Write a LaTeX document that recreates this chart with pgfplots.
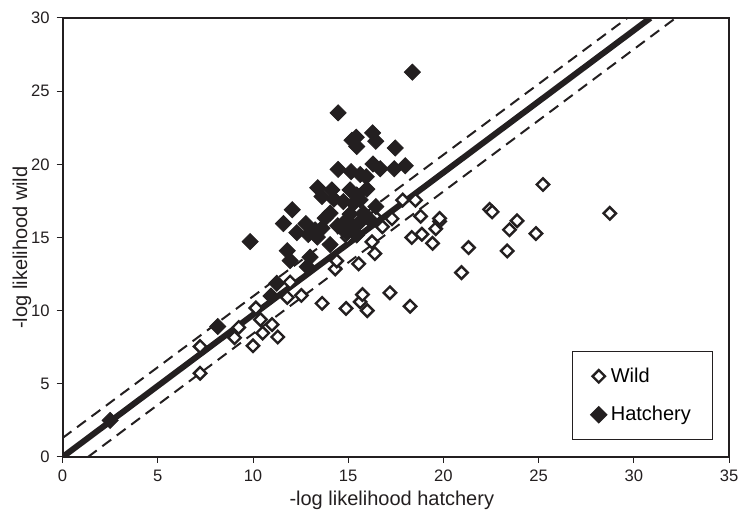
\documentclass[border=0pt]{standalone}
\usepackage{fontspec}
\setmainfont{Liberation Sans}
\usepackage{pgfplots}
\pgfplotsset{compat=1.18}
\definecolor{ink}{RGB}{35,31,32}

\begin{document}
\begin{tikzpicture}
\path[use as bounding box] (-31.3pt,-30pt) rectangle (337.7pt,228.5pt);
\begin{axis}[
  at={(0,0)}, anchor=origin,
  scale only axis, width=333.2pt, height=219.5pt,
  xmin=0, xmax=35, ymin=0, ymax=30,
  xtick={0,5,...,35}, ytick={0,5,...,30},
  tick align=outside, tick pos=left,
  major tick length=3pt,
  axis line style={ink, line width=1pt},
  tick style={ink, line width=0.5pt},
  /pgf/number format/assume math mode=true,
  every tick label/.append style={font=\fontsize{8.3}{10}\selectfont, text=ink},
  xlabel={-log likelihood hatchery},
  ylabel={-log likelihood wild},
  label style={font=\fontsize{10}{12}\selectfont, text=ink},
  xlabel style={at={(rel axis cs:0.494,0)}, anchor=center, yshift=-21.5pt},
  ylabel style={at={([xshift=-20.3pt]rel axis cs:0,0.477)}, anchor=center},
  legend style={at={(rel axis cs:0.8706,0.14)}, anchor=center, draw=ink,
    line width=0.6pt, font=\fontsize{10}{12}\selectfont,
    inner xsep=9pt, inner ysep=6pt, row sep=6.5pt},
  legend cell align=left,
  legend image code/.code={\draw[#1] plot coordinates {(3pt,0pt)};},
]
% wild fish
\addplot[only marks, mark=square*, mark size=2.2pt,
  mark options={rotate=45, fill=white, draw=ink, line width=1.2pt}] table {
x y
7.22 5.72
7.22 7.55
9.03 8.15
9.25 8.85
10.0 7.6
10.15 10.18
10.39 9.39
10.51 8.47
11.0 9.05
11.3 8.2
11.8 10.9
11.95 11.95
12.54 11.04
13.63 10.5
14.89 10.15
15.63 10.6
15.75 11.1
16.0 10.0
17.19 11.22
18.25 10.3
14.32 12.85
14.4 13.4
15.55 13.2
16.4 13.9
16.25 14.7
16.38 16.45
16.8 15.73
17.3 16.28
17.86 17.56
18.53 17.55
18.34 15.0
18.87 15.22
18.8 16.45
19.43 14.6
19.6 15.6
19.8 16.1
19.8 16.3
20.95 12.6
21.32 14.31
22.43 16.92
22.56 16.75
23.35 14.08
23.47 15.53
23.87 16.14
24.86 15.27
25.23 18.62
28.74 16.65
14.96 15.0
};
\addlegendentry{Wild}
% hatchery fish
\addplot[only marks, mark=square*, mark size=2.85pt,
  mark options={rotate=45, fill=ink, draw=ink}] table {
x y
2.5 2.5
8.15 8.92
9.85 14.72
18.37 26.3
14.47 23.52
15.2 21.65
15.42 21.85
15.45 21.22
16.28 22.15
16.45 21.58
17.47 21.12
14.47 19.65
15.15 19.5
15.63 19.3
15.95 19.15
16.3 20.02
16.68 19.7
17.42 19.7
18.0 19.9
13.4 18.4
13.62 17.8
14.14 18.25
14.25 17.62
15.1 18.25
15.45 17.91
15.98 18.3
14.75 17.45
15.28 17.34
15.63 17.57
16.45 17.11
12.06 16.9
11.6 15.95
12.78 15.95
12.3 15.33
12.9 15.2
13.26 15.52
13.79 16.32
13.62 15.63
13.38 15.03
14.05 16.66
14.45 15.8
14.93 16.2
15.28 15.74
15.63 16.08
14.93 15.29
15.45 15.17
15.1 16.6
15.8 16.66
16.15 16.2
14.05 14.52
11.8 14.1
11.95 13.42
13.0 13.65
12.85 13.0
11.25 11.87
10.95 11.0
};
\addlegendentry{Hatchery}
% reference lines
\addplot[ink, line width=3pt, forget plot] coordinates {(0,0) (30.87,30)};
\addplot[ink, line width=1pt, dash pattern=on 5.5pt off 3.5pt, forget plot] coordinates {(0,1.3) (29.66,30)};
\addplot[ink, line width=1pt, dash pattern=on 5.5pt off 3.5pt, forget plot] coordinates {(1.33,0) (32.2,30)};
\end{axis}
\end{tikzpicture}
\end{document}
